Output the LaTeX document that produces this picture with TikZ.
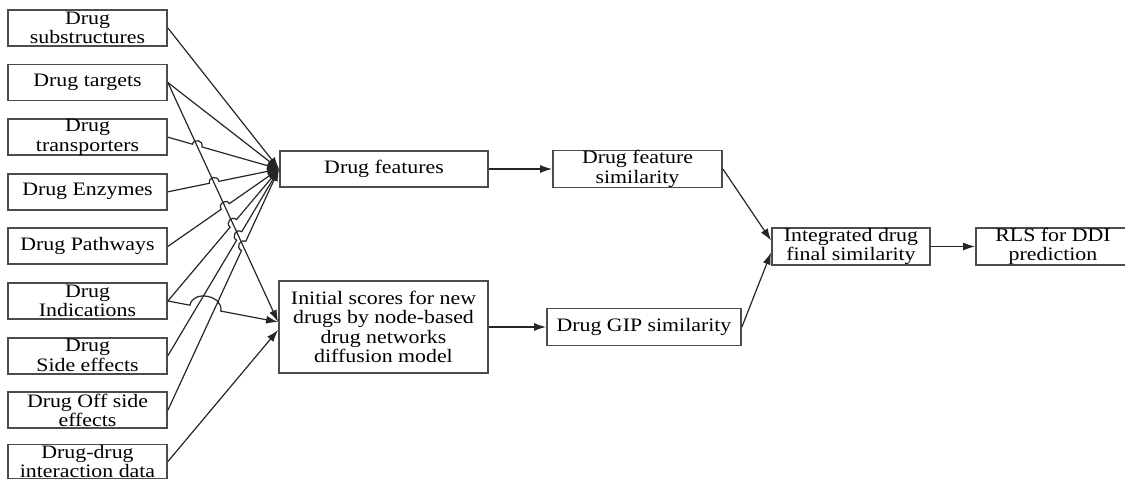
\documentclass[tikz,border=0pt]{standalone}
\usepackage{fontspec}
\setmainfont{Liberation Serif}[FakeStretch=1.15]
\usetikzlibrary{arrows.meta,calc}

\tikzset{
  box/.style={draw=black!70, line width=1.8pt, align=center, inner sep=0pt,
    minimum height=36pt, font=\fontsize{19}{19.5}\selectfont},
  inbox/.style={box, minimum width=159pt},
  conn/.style={line width=1.2pt, black!85, -{Latex[length=12pt,width=8pt]}},
  jump/.style={bend left=90, looseness=1.7},
}

\begin{document}
\begin{tikzpicture}[x=1pt, y=-1pt]
        \useasboundingbox (0,0) rectangle (1125,481);
        % drug data sources
        \node[inbox] (sub)  at (87.5,28)    {Drug\\substructures};
        \node[inbox] (tar)  at (87.5,82.6)  {Drug targets};
        \node[inbox] (tra)  at (87.5,137.2) {Drug\\transporters};
        \node[inbox] (enz)  at (87.5,191.8) {Drug Enzymes};
        \node[inbox] (pwy)  at (87.5,246.4) {Drug Pathways};
        \node[inbox] (ind)  at (87.5,301)   {Drug\\Indications};
        \node[inbox] (side) at (87.5,355.6) {Drug\\Side effects};
        \node[inbox] (off)  at (87.5,410.2) {Drug Off side\\effects};
        \node[inbox, minimum height=34pt] (ddi) at (87.5,461.5) {Drug-drug\\interaction data};
        % processing
        \node[box, minimum width=208pt] (feat) at (384,169) {Drug features};
        \node[box, minimum width=209pt, minimum height=92pt] (init) at (383.5,327)
             {Initial scores for new\\drugs by node-based\\drug networks\\diffusion model};
        \node[box, minimum width=169pt] (fsim) at (637.5,169) {Drug feature\\similarity};
        \node[box, minimum width=194pt, minimum height=37pt] (gip) at (644,327) {Drug GIP similarity};
        \node[box, minimum width=158pt, minimum height=37pt] (integ) at (851,246.5) {Integrated drug\\final similarity};
        \node[box, minimum width=154pt, minimum height=37pt] (rls) at (1053,246.5) {RLS for DDI\\prediction};
        % inputs
        \coordinate (fin) at (feat.west);
        \coordinate (iin) at ([yshift=5pt]init.west);
        \draw[conn] (tar.east) -- (iin);
        \draw[conn] (sub.east) -- (fin);
        \draw[conn] (tar.east) -- (fin);
        \draw[conn] (tra.east)  -- ($(tra.east)!.22!(fin)$)  to[jump] ($(tra.east)!.306!(fin)$)  -- (fin);
        \draw[conn] (enz.east)  -- ($(enz.east)!.373!(fin)$) to[jump] ($(enz.east)!.459!(fin)$)  -- (fin);
        \draw[conn] (pwy.east)  -- ($(pwy.east)!.48!(fin)$)  to[jump] ($(pwy.east)!.553!(fin)$)  -- (fin);
        \draw[conn] (ind.east)  -- ($(ind.east)!.559!(fin)$) to[jump] ($(ind.east)!.617!(fin)$)  -- (fin);
        \draw[conn] (side.east) -- ($(side.east)!.618!(fin)$) to[jump] ($(side.east)!.664!(fin)$) -- (fin);
        \draw[conn] (off.east)  -- ($(off.east)!.662!(fin)$)  to[jump] ($(off.east)!.70!(fin)$)   -- (fin);
        \draw[conn] (ind.east)  -- ($(ind.east)!.2!(iin)$)   to[jump, looseness=1.3] ($(ind.east)!.48!(iin)$) -- (iin);
        \draw[conn] (ddi.east)  -- ([yshift=-3pt]init.west);
        % similarities
        \draw[conn] (feat) -- (fsim);
        \draw[conn] (init) -- (gip);
        \draw[conn] (fsim.east) -- ([yshift=6pt]integ.west);
        \draw[conn] (gip.east)  -- ([yshift=-6pt]integ.west);
        \draw[conn] (integ) -- (rls);
\end{tikzpicture}
\end{document}
